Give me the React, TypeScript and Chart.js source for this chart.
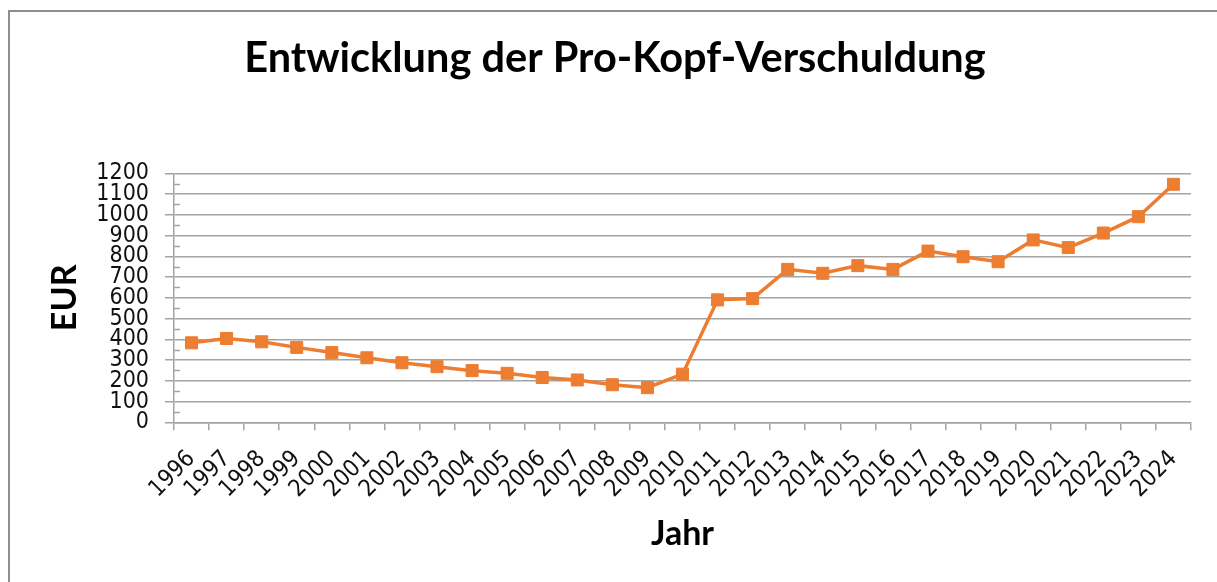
import React, { useEffect, useRef } from "react";
import { Chart, registerables } from "chart.js";

Chart.register(...registerables);

const years: string[] = [
  "1996", "1997", "1998", "1999", "2000", "2001", "2002", "2003", "2004", "2005",
  "2006", "2007", "2008", "2009", "2010", "2011", "2012", "2013", "2014", "2015",
  "2016", "2017", "2018", "2019", "2020", "2021", "2022", "2023", "2024",
];

const debtPerCapita: number[] = [
  383, 404, 388, 361, 336, 311, 287, 268, 249, 236,
  216, 204, 181, 167, 232, 590, 596, 737, 718, 755,
  737, 825, 798, 774, 879, 842, 912, 991, 1147,
];

const yMin = 0;
const yMax = 1200;
const yStep = 100;

const chartTitle = "Entwicklung der Pro-Kopf-Verschuldung";
const yTitle = "EUR";
const xTitle = "Jahr";

const ORANGE = "#ED7D31";
const GRID = "#a4a4a4";
const TICK_FONT = "'DejaVu Sans Condensed', 'DejaVu Sans', sans-serif";

const minorTicks = {
  id: "minorTicks",
  afterDatasetsDraw(chart: any) {
    const y = chart.scales.y;
    const { ctx, chartArea } = chart;
    ctx.save();
    ctx.strokeStyle = GRID;
    ctx.lineWidth = 1.5;
    for (let v = yMin + yStep / 2; v < yMax; v += yStep) {
      const py = Math.round(y.getPixelForValue(v)) + 0.5;
      ctx.beginPath();
      ctx.moveTo(chartArea.left, py);
      ctx.lineTo(chartArea.left + 6, py);
      ctx.stroke();
    }
    ctx.restore();
  },
};

const titleText = {
  id: "titleText",
  afterDraw(chart: any) {
    const { ctx } = chart;
    ctx.save();
    ctx.fillStyle = "#000";
    ctx.font = "bold 41.5px Lato";
    ctx.textAlign = "center";
    ctx.textBaseline = "alphabetic";
    ctx.fillText(chartTitle, 615, 72);
    ctx.restore();
  },
};

export default function App() {
  const ref = useRef<HTMLCanvasElement | null>(null);

  useEffect(() => {
    if (!ref.current) return;
    const chart = new Chart(ref.current, {
      type: "line",
      data: {
        labels: years,
        datasets: [
          {
            data: debtPerCapita,
            borderColor: ORANGE,
            backgroundColor: ORANGE,
            borderWidth: 3.5,
            tension: 0,
            pointStyle: "rect",
            pointRadius: 8.5,
            pointHoverRadius: 8.5,
            pointBackgroundColor: ORANGE,
            pointBorderColor: ORANGE,
            pointBorderWidth: 1,
          },
        ],
      },
      options: {
        animation: false,
        responsive: false,
        maintainAspectRatio: false,
        layout: { padding: { left: 0, right: 26, top: 173.3, bottom: 0 } },
        plugins: {
          legend: { display: false },
          tooltip: { enabled: false },
          title: { display: false },
        },
        scales: {
          x: {
            type: "category",
            offset: true,
            afterFit: (s: any) => {
              s.height = 582 - 422.3;
            },
            grid: {
              display: true,
              drawOnChartArea: false,
              drawTicks: true,
              tickLength: 8,
              color: GRID,
              lineWidth: 1.5,
              offset: true,
            },
            border: { display: true, color: GRID, width: 1.5 },
            ticks: {
              autoSkip: false,
              minRotation: 45,
              maxRotation: 45,
              color: "#111",
              padding: 15,
              font: { family: TICK_FONT, size: 23.5 },
            },
            title: {
              display: true,
              text: xTitle,
              color: "#000",
              font: { family: "Lato", weight: "bold", size: 34, lineHeight: 1.2 },
              padding: { top: 0, bottom: 28 },
            },
          },
          y: {
            min: yMin,
            max: yMax,
            afterFit: (s: any) => {
              s.width = 174;
            },
            ticks: {
              stepSize: yStep,
              autoSkip: false,
              color: "#111",
              padding: 16,
              font: { family: TICK_FONT, size: 23 },
              callback: (v: any) => String(v),
            },
            grid: {
              color: GRID,
              lineWidth: 1.5,
              drawTicks: true,
              tickLength: 9,
            },
            border: { display: true, color: GRID, width: 1.5 },
            title: {
              display: true,
              text: yTitle,
              color: "#000",
              font: { family: "Lato", weight: "bold", size: 34, lineHeight: 1.2 },
              padding: { top: 45, bottom: 0 },
            },
          },
        },
      },
      plugins: [minorTicks, titleText],
    });
    return () => chart.destroy();
  }, []);

  return (
    <div style={{ position: "fixed", left: 0, top: 0, width: 1217, height: 582, background: "#fff", overflow: "hidden" }}>
      <div
        style={{
          position: "absolute",
          left: 8,
          top: 10,
          width: 1400,
          height: 800,
          border: "2px solid #8e8e8e",
          boxSizing: "border-box",
        }}
      />
      <canvas
        ref={ref}
        width={1217}
        height={582}
        style={{ position: "absolute", left: 0, top: 0, width: 1217, height: 582 }}
      />
    </div>
  );
}
